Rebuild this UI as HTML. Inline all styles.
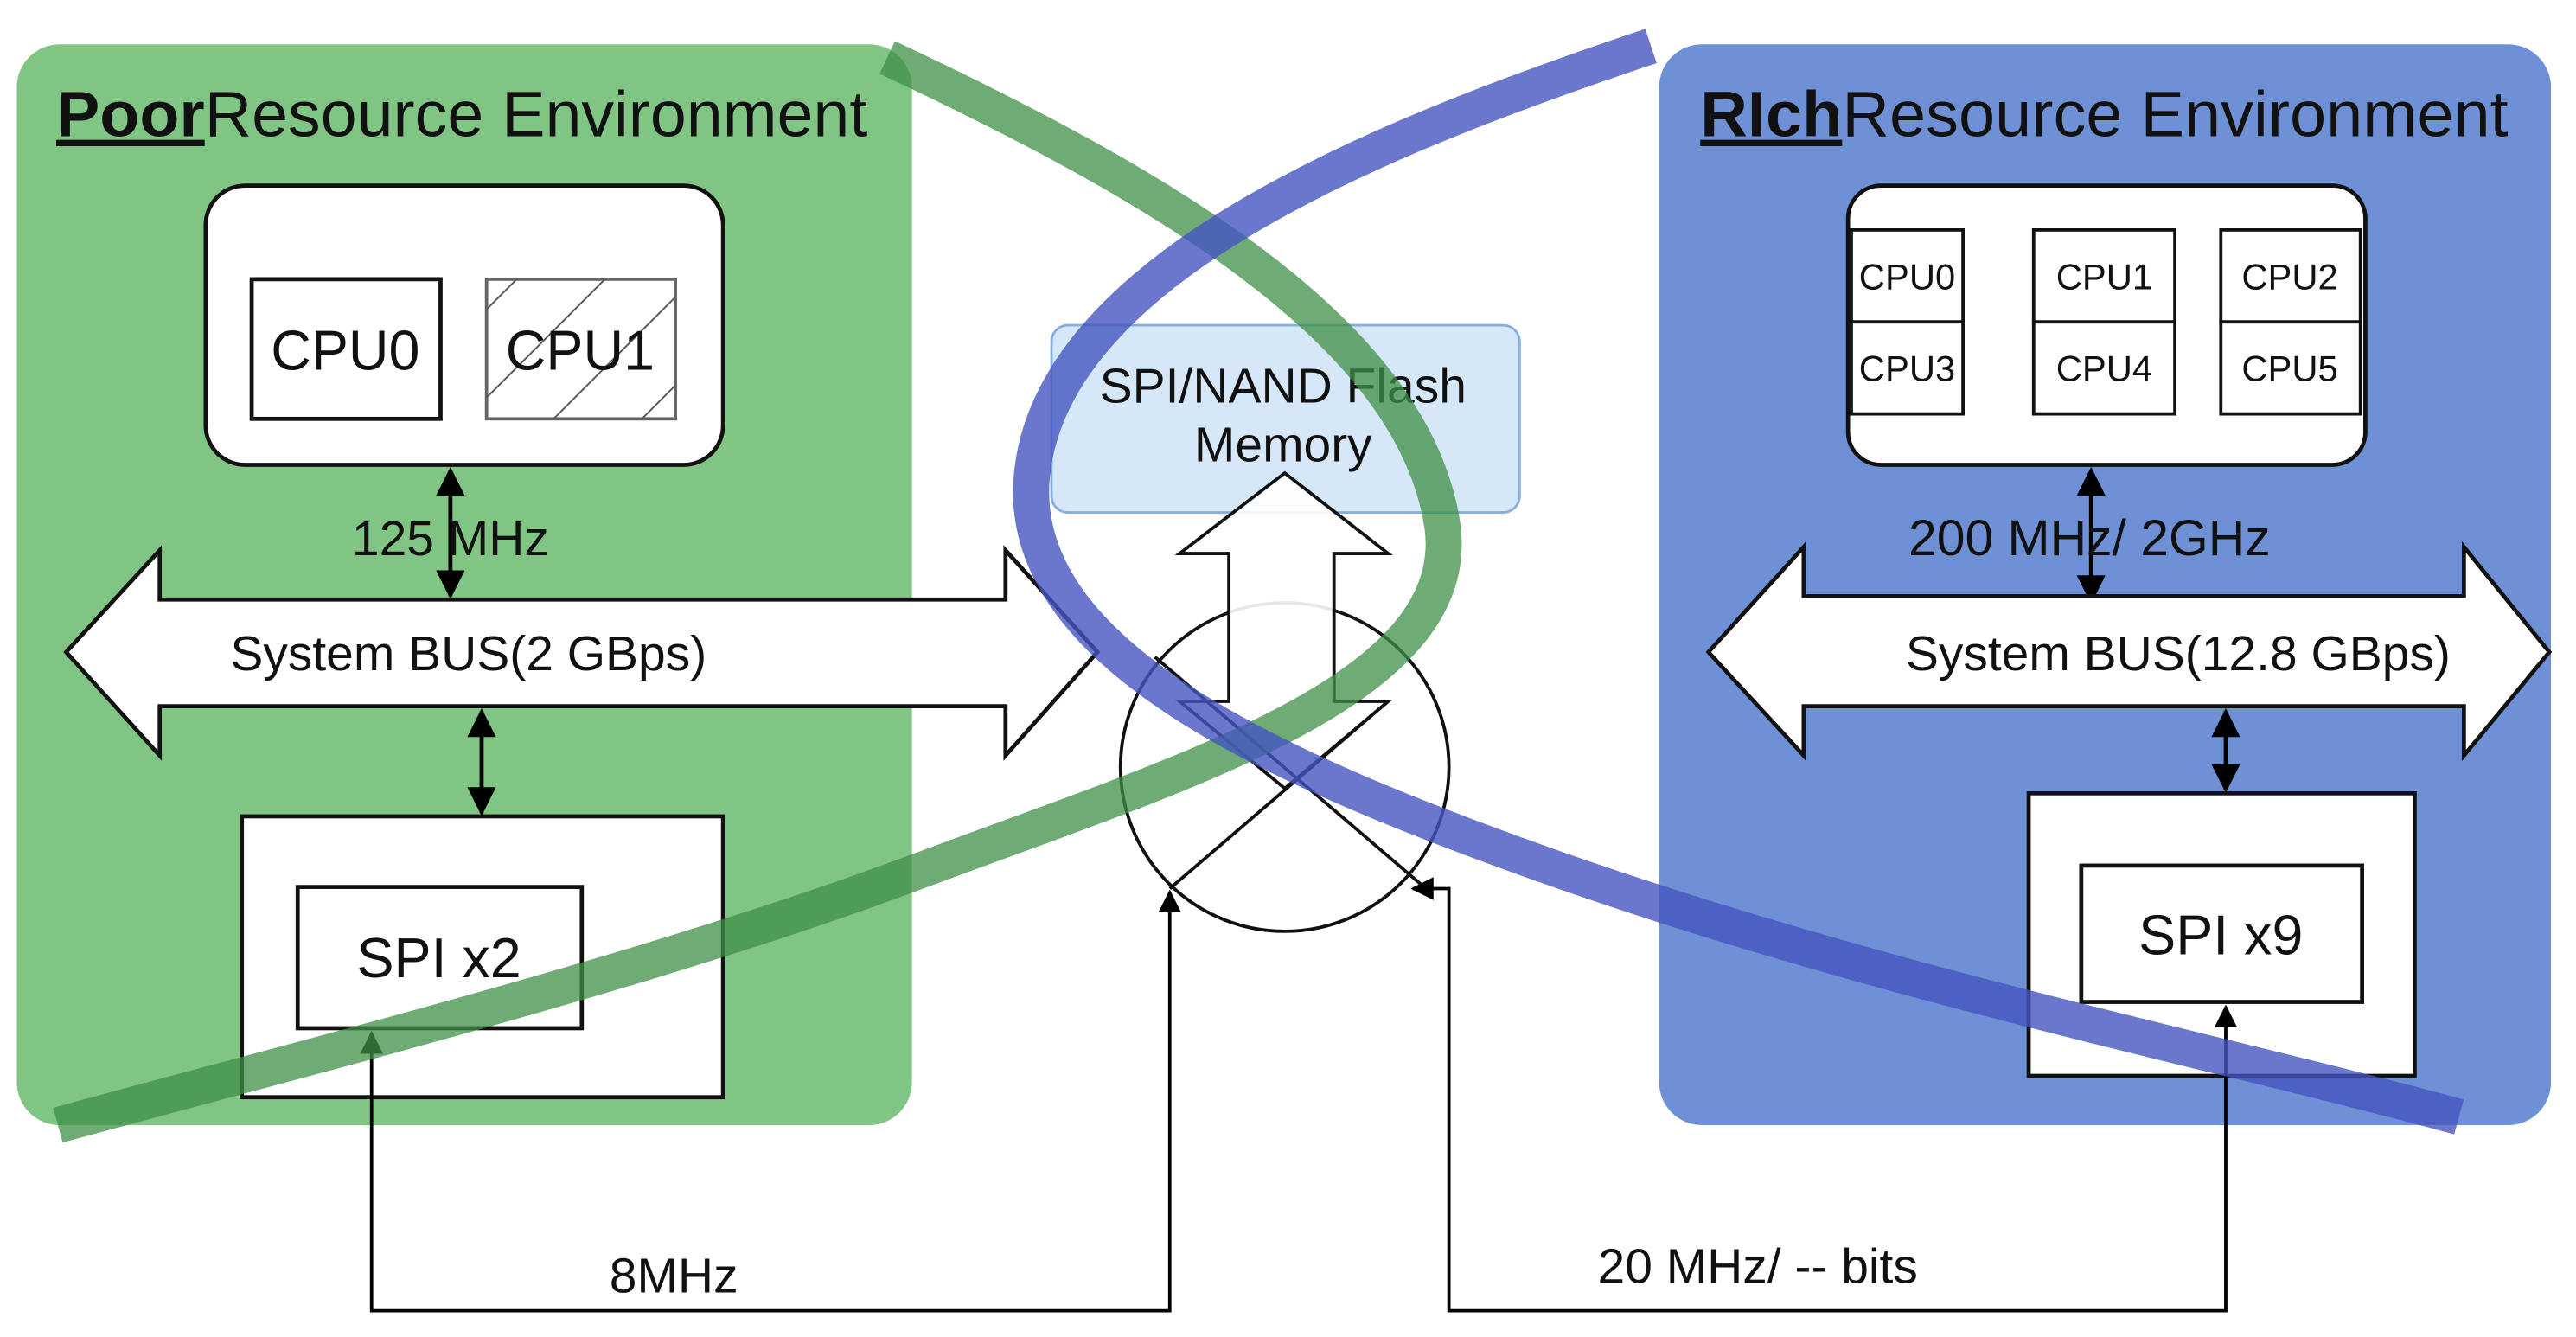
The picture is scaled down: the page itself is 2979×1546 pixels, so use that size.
<!DOCTYPE html>
<html><head><meta charset="utf-8"><style>
html,body{margin:0;padding:0;background:#fff;}
svg{display:block;}
text{font-family:"Liberation Sans",Arial,sans-serif;fill:#111;}
</style></head><body>
<svg width="2979" height="1546" viewBox="0 0 1568 814" xmlns="http://www.w3.org/2000/svg">
<defs>
<marker id="ah" viewBox="0 0 10 10" refX="9" refY="5" markerWidth="7" markerHeight="7" orient="auto-start-reverse"><path d="M0,0 L10,5 L0,10 z" fill="#000"/></marker>
<pattern id="hatch" patternUnits="userSpaceOnUse" width="38" height="38" patternTransform="rotate(45)"><line x1="0" y1="0" x2="0" y2="38" stroke="#555" stroke-width="2"/></pattern>
</defs>
<!-- green env -->
<rect x="10" y="27" width="545" height="658" rx="26" fill="#80c584"/>
<text x="34" y="83" font-size="39" textLength="494" lengthAdjust="spacingAndGlyphs"><tspan font-weight="bold" text-decoration="underline">Poor</tspan>Resource Environment</text>
<rect x="125" y="113" width="315" height="170" rx="24" fill="#fff" stroke="#111" stroke-width="2.5"/>
<rect x="153" y="170" width="115" height="85" fill="#fff" stroke="#111" stroke-width="2.5"/>
<text x="210" y="225" font-size="34" text-anchor="middle">CPU0</text>
<rect x="296" y="170" width="115" height="85" fill="#fff" stroke="#666" stroke-width="2"/>
<rect x="296" y="170" width="115" height="85" fill="url(#hatch)"/>
<text x="353" y="225" font-size="34" text-anchor="middle" fill="#333">CPU1</text>
<line x1="274" y1="286" x2="274" y2="363" stroke="#000" stroke-width="2.5" marker-start="url(#ah)" marker-end="url(#ah)"/>
<text x="274" y="338" font-size="30" text-anchor="middle">125 MHz</text>
<path d="M40,397 L97,335 L97,365 L612,365 L612,335 L668,397 L612,460 L612,430 L97,430 L97,460 Z" fill="#fff" stroke="#111" stroke-width="2.5"/>
<text x="285" y="408" font-size="30" text-anchor="middle">System BUS(2 GBps)</text>
<line x1="293" y1="433" x2="293" y2="495" stroke="#000" stroke-width="2.5" marker-start="url(#ah)" marker-end="url(#ah)"/>
<rect x="147" y="497" width="293" height="171" fill="#fff" stroke="#111" stroke-width="2.5"/>
<rect x="181" y="540" width="173" height="86" fill="#fff" stroke="#111" stroke-width="2.5"/>
<text x="267" y="595" font-size="34" text-anchor="middle">SPI x2</text>
<!-- blue env -->
<rect x="1010" y="27" width="543" height="658" rx="26" fill="#6e91d6"/>
<text x="1035" y="83" font-size="39" textLength="492" lengthAdjust="spacingAndGlyphs"><tspan font-weight="bold" text-decoration="underline">RIch</tspan>Resource Environment</text>
<rect x="1125" y="113" width="315" height="170" rx="20" fill="#fff" stroke="#111" stroke-width="2.5"/>
<g stroke="#111" stroke-width="2" fill="#fff">
<rect x="1127" y="140" width="68" height="56"/><rect x="1127" y="196" width="68" height="56"/>
<rect x="1238" y="140" width="86" height="56"/><rect x="1238" y="196" width="86" height="56"/>
<rect x="1352" y="140" width="85" height="56"/><rect x="1352" y="196" width="85" height="56"/>
</g>
<g font-size="22" text-anchor="middle">
<text x="1161" y="176">CPU0</text><text x="1161" y="232">CPU3</text>
<text x="1281" y="176" fill="#444">CPU1</text><text x="1281" y="232" fill="#444">CPU4</text>
<text x="1394" y="176" fill="#444">CPU2</text><text x="1394" y="232" fill="#444">CPU5</text>
</g>
<line x1="1273" y1="286" x2="1273" y2="366" stroke="#000" stroke-width="2.5" marker-start="url(#ah)" marker-end="url(#ah)"/>
<text x="1272" y="338" font-size="31" text-anchor="middle">200 MHz/ 2GHz</text>
<path d="M1040,397 L1098,333 L1098,363 L1500,363 L1500,333 L1552,397 L1500,460 L1500,430 L1098,430 L1098,460 Z" fill="#fff" stroke="#111" stroke-width="2.5"/>
<text x="1326" y="408" font-size="30" text-anchor="middle">System BUS(12.8 GBps)</text>
<line x1="1355" y1="433" x2="1355" y2="481" stroke="#000" stroke-width="2.5" marker-start="url(#ah)" marker-end="url(#ah)"/>
<rect x="1235" y="483" width="235" height="172" fill="#fff" stroke="#111" stroke-width="2.5"/>
<rect x="1267" y="527" width="171" height="83" fill="#fff" stroke="#111" stroke-width="2.5"/>
<text x="1352" y="581" font-size="34" text-anchor="middle">SPI x9</text>
<!-- center -->
<rect x="640" y="198" width="285" height="114" rx="10" fill="#cfe4f7" fill-opacity="0.85" stroke="#86aee0" stroke-width="1.5"/>
<text x="781" y="245" font-size="30" text-anchor="middle">SPI/NAND Flash</text>
<text x="781" y="281" font-size="30" text-anchor="middle">Memory</text>
<circle cx="782" cy="467" r="100" fill="none" stroke="#111" stroke-width="2"/>
<path d="M782,288 L845,337 L812,337 L812,427 L845,427 L782,480 L718,427 L748,427 L748,337 L718,337 Z" fill="#fff" fill-opacity="0.9" stroke="#111" stroke-width="2"/>
<line x1="712" y1="541" x2="845" y2="427" stroke="#111" stroke-width="2"/>
<line x1="868" y1="541" x2="703" y2="400" stroke="#111" stroke-width="2"/>
<!-- connectors -->
<polyline points="226,629 226,798 712,798 712,543" fill="none" stroke="#000" stroke-width="2" marker-start="url(#ah)" marker-end="url(#ah)"/>
<text x="410" y="787" font-size="30" text-anchor="middle">8MHz</text>
<polyline points="1355,613 1355,798 882,798 882,541 860,541" fill="none" stroke="#000" stroke-width="2" marker-start="url(#ah)" marker-end="url(#ah)"/>
<text x="1070" y="781" font-size="30" text-anchor="middle">20 MHz/ -- bits</text>
<!-- curves -->
<path d="M540,35 C700,110 860,200 878,320 C892,420 720,470 560,530 C400,590 200,640 35,685" fill="none" stroke="#3f8f45" stroke-opacity="0.75" stroke-width="22"/>
<path d="M1005,28 C850,80 640,160 628,290 C618,400 780,470 950,530 C1150,600 1350,640 1497,680" fill="none" stroke="#4555c0" stroke-opacity="0.8" stroke-width="22"/>
</svg>
</body></html>
